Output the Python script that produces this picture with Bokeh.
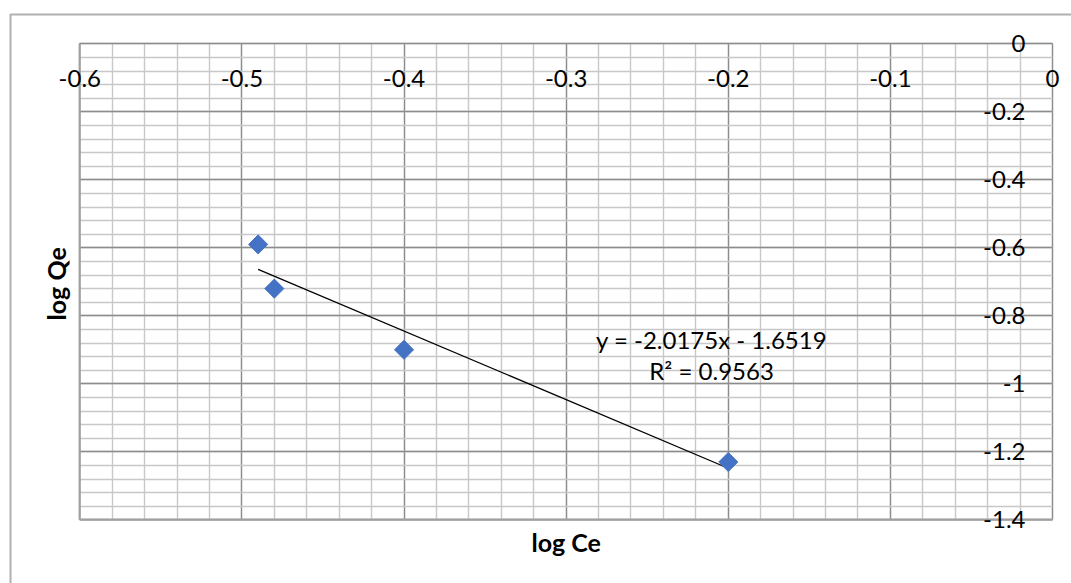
import numpy as np
from bokeh.plotting import figure
from bokeh.models import FixedTicker, BoxAnnotation, ColumnDataSource, Range1d, Grid
from bokeh.core.properties import value
from bokeh.embed import file_html
from bokeh.resources import INLINE

# ---- data ----
log_ce = [-0.49, -0.48, -0.40, -0.20]
log_qe = [-0.59, -0.72, -0.90, -1.23]

x_ticks = [-0.6, -0.5, -0.4, -0.3, -0.2, -0.1, 0.0]
x_tick_labels = ["-0.6", "-0.5", "-0.4", "-0.3", "-0.2", "-0.1", "0"]
y_ticks = [0.0, -0.2, -0.4, -0.6, -0.8, -1.0, -1.2, -1.4]
y_tick_labels = ["0", "-0.2", "-0.4", "-0.6", "-0.8", "-1", "-1.2", "-1.4"]
x_title = "log Ce"
y_title = "log Qe"

x_minor = [round(v, 2) for v in np.arange(-0.6, 0.001, 0.02)]
y_minor = [round(v, 2) for v in np.arange(-1.4, 0.001, 0.04)]

# trendline (least squares)
slope, intercept = np.polyfit(log_ce, log_qe, 1)
pred = slope * np.array(log_ce) + intercept
ss_res = np.sum((np.array(log_qe) - pred) ** 2)
ss_tot = np.sum((np.array(log_qe) - np.mean(log_qe)) ** 2)
r2 = 1 - ss_res / ss_tot
eq_text = f"y = {slope:.4f}x - {abs(intercept):.4f}"
r2_text = f"R\u00b2 = {r2:.4f}"

# ---- layout (pixels) ----
W, H = 1071, 583
FRAME_L, FRAME_T = 8, 12          # frame covers the chart area
PA_L, PA_R, PA_T, PA_B = 79.3, 1052.0, 43.3, 519.3   # plot area
XMIN, XMAX, YMIN, YMAX = x_ticks[0], x_ticks[-1], y_ticks[-1], y_ticks[0]
ppx = (PA_R - PA_L) / (XMAX - XMIN)
ppy = (PA_B - PA_T) / (YMAX - YMIN)
x_start = XMIN - (PA_L - FRAME_L) / ppx
x_end = XMIN + (W - PA_L) / ppx
y_end = YMAX + (PA_T - FRAME_T) / ppy
y_start = YMAX - (H - PA_T) / ppy

FONT = "Lato"

p = figure(
    width=W, height=H,
    min_border_left=FRAME_L, min_border_top=FRAME_T, min_border_right=0, min_border_bottom=0,
    x_range=Range1d(x_start, x_end), y_range=Range1d(y_start, y_end),
    x_axis_location=None, y_axis_location=None,
    output_backend="svg", toolbar_location=None,
)
p.background_fill_color = "white"
p.border_fill_color = "white"
p.outline_line_color = None
p.center = [r for r in p.center if not isinstance(r, Grid)]

# chart outer border
p.add_layout(BoxAnnotation(left=XMIN - (PA_L - 10) / ppx, right=x_end + 1,
                           top=YMAX + (PA_T - 14) / ppy, bottom=y_start - 1,
                           fill_color=None, fill_alpha=0, line_color="#b0b0b0",
                           line_width=2, line_alpha=1, level="underlay"))

# grids limited to the plot area
MAJ_C, MIN_C = "#8c8c8c", "#c8c8c8"
use_grid = "cross_bounds" in Grid.properties()
if use_grid:
    for dim, ticks, minor, b, cb in ((0, x_ticks, x_minor, (XMIN, XMAX), (YMIN, YMAX)),
                                     (1, y_ticks, y_minor, (YMIN, YMAX), (XMIN, XMAX))):
        p.add_layout(Grid(dimension=dim, ticker=FixedTicker(ticks=ticks, minor_ticks=minor),
                          bounds=b, cross_bounds=cb,
                          grid_line_color=MAJ_C, grid_line_width=1.3,
                          minor_grid_line_color=MIN_C, minor_grid_line_width=1.4))
else:
    xm = [v for v in x_minor if v not in x_ticks]
    ym = [v for v in y_minor if v not in y_ticks]
    p.segment(x0=xm, y0=[YMIN] * len(xm), x1=xm, y1=[YMAX] * len(xm), line_color=MIN_C, line_width=1.4)
    p.segment(x0=[XMIN] * len(ym), y0=ym, x1=[XMAX] * len(ym), y1=ym, line_color=MIN_C, line_width=1.4)
    p.segment(x0=x_ticks, y0=[YMIN] * len(x_ticks), x1=x_ticks, y1=[YMAX] * len(x_ticks), line_color=MAJ_C, line_width=1.3)
    p.segment(x0=[XMIN] * len(y_ticks), y0=y_ticks, x1=[XMAX] * len(y_ticks), y1=y_ticks, line_color=MAJ_C, line_width=1.3)

# plot-area edge (left / bottom slightly stronger as in the reference)
p.segment(x0=[XMIN, XMIN], y0=[YMIN, YMIN], x1=[XMIN, XMAX], y1=[YMAX, YMIN],
          line_color="#a0a0a0", line_width=2)

# tick labels (axes cross at 0, Excel style)
xs_src = ColumnDataSource(dict(x=x_ticks, y=[YMAX] * len(x_ticks), t=x_tick_labels))
p.text(x="x", y="y", text="t", source=xs_src, text_font=value(FONT),
       text_font_size="24px", text_color="black", text_align="center",
       text_baseline="middle", y_offset=35)
ys_src = ColumnDataSource(dict(x=[XMAX] * len(y_ticks), y=y_ticks, t=y_tick_labels))
p.text(x="x", y="y", text="t", source=ys_src, text_font=value(FONT),
       text_font_size="24px", text_color="black", text_align="right",
       text_baseline="middle", x_offset=-27)

# axis titles
p.text(x=[(XMIN + XMAX) / 2], y=[YMIN], text=[x_title], text_font=value(FONT),
       text_font_size="25px", text_font_style="bold", text_color="black",
       text_align="center", text_baseline="middle", y_offset=22)
p.text(x=[XMIN], y=[(YMIN + YMAX) / 2], text=[y_title], text_font=value(FONT),
       text_font_size="25px", text_font_style="bold", text_color="black",
       text_align="center", text_baseline="middle", angle=np.pi / 2, x_offset=-24, y_offset=2)

# trendline
tx = np.array([min(log_ce), max(log_ce)])
p.line(tx, slope * tx + intercept, line_color="black", line_width=1.3)

# points
p.scatter(log_ce, log_qe, marker="square", size=13.5, angle=np.pi / 4,
          fill_color="#4472C4", line_color="#4472C4")

# trendline label
p.text(x=[-0.2103, -0.2103], y=[-0.8697, -0.961], text=[eq_text, r2_text],
       text_font=value(FONT), text_font_size="24px", text_color="black",
       text_align="center", text_baseline="middle")

open("out.html", "w").write(file_html(p, INLINE))
